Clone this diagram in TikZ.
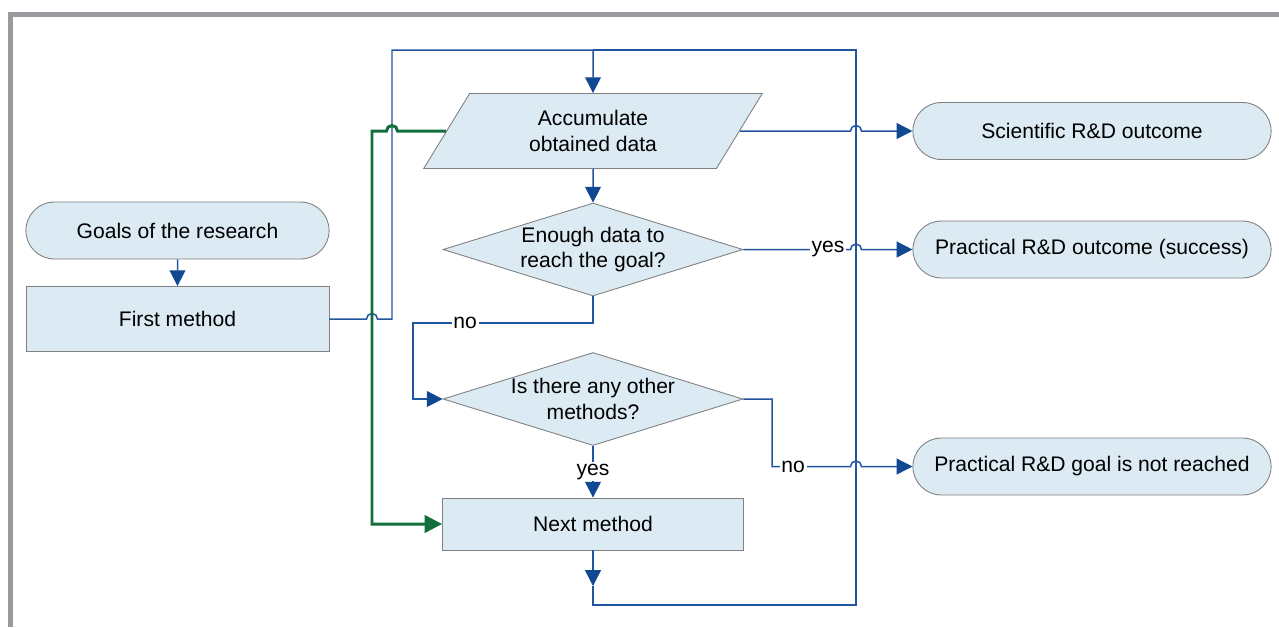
\documentclass[tikz,border=0pt]{standalone}
\usepackage{fontspec}
\setmainfont{Liberation Sans}
\usetikzlibrary{arrows.meta,shapes.geometric,shapes.misc}

\definecolor{boxfill}{RGB}{219,234,243}
\definecolor{boxdraw}{RGB}{128,128,128}
\definecolor{lineblue}{RGB}{34,85,160}
\definecolor{arrowblue}{RGB}{16,72,145}
\definecolor{pathgreen}{RGB}{18,110,60}
\definecolor{framegray}{RGB}{153,153,158}

\begin{document}
\begin{tikzpicture}[x=0.02cm, y=-0.02cm,
  every node/.style={font=\fontsize{12}{14.4}\selectfont},
  terminal/.style={rounded rectangle, draw=boxdraw, fill=boxfill, line width=0.5pt,
    minimum width=7.4cm, minimum height=1.14cm},
  process/.style={rectangle, draw=boxdraw, fill=boxfill, line width=0.5pt,
    minimum width=6.06cm},
  data/.style={trapezium, trapezium left angle=63.7, trapezium right angle=116.3,
    trapezium stretches=true, draw=boxdraw, fill=boxfill, line width=0.5pt,
    minimum width=6.78cm, minimum height=1.5cm, align=center},
  decision/.style={diamond, draw=boxdraw, fill=boxfill, line width=0.5pt, align=center,
    inner sep=0pt, shape aspect=3.2, minimum width=6cm, minimum height=1.86cm},
  flow/.style={draw=lineblue, line width=0.85pt},
  arrow/.style={-{Triangle[length=9pt, width=9pt, color=arrowblue]}},
  back/.style={draw=pathgreen, line width=1.7pt, -{Triangle[length=10pt, width=10pt]}},
  lbl/.style={fill=white, inner sep=1pt},
  frame/.style={draw=framegray, line width=0.1cm}]
  \useasboundingbox (0,0) rectangle (1279,627);

  %% frame
  \draw[frame] (1279,14.2) -- (10.8,14.2) -- (10.8,627);

  %% start
  \node[terminal, minimum width=6.3cm] (goals) at (177.5,230.5) {Goals of the research};
  \node[process, minimum height=1.3cm] (first) at (177.5,319) {First method};

  %% loop
  \node[data] (acc) at (593,131) {Accumulate\\obtained data};
  \node[decision] (enough) at (593,249.5) {Enough data to\\reach the goal?};
  \node[decision] (other) at (593,399) {Is there any other\\methods?};
  \node[process, minimum width=6.02cm, minimum height=1.04cm] (next) at (593,524) {Next method};

  %% outcomes
  \node[terminal] (sci) at (1092,131) {Scientific R\&D outcome};
  \node[terminal] (success) at (1092,249.5) {Practical R\&D outcome (success)};
  \node[terminal] (fail) at (1092,466.5) {Practical R\&D goal is not reached};

  %% connectors
  \draw[flow, arrow] (goals) -- (first);
  \draw[flow, arrow] (first.east) -- (366.5,319) arc[start angle=180, end angle=0, radius=0.11cm]
    -- (392,319) -- (392,50) -| (acc.north);
  \draw[flow, arrow] (next.south) -- (593,586);
  \draw[flow] (593,586) -- (593,605) -| (856,50) -- (593,50);
  \draw[flow, arrow] (acc.east) -- (850.5,131) arc[start angle=180, end angle=0, radius=0.11cm]
    -- (sci.west);
  \draw[flow, arrow] (acc) -- (enough);
  \draw[flow, arrow] (enough.east) -- node[lbl, pos=0.79] {yes} (850.5,249.5)
    arc[start angle=180, end angle=0, radius=0.11cm] -- (success.west);
  \draw[flow, arrow] (enough.south) -- (593,323) -- node[lbl, pos=0.71] {no} (413,323)
    |- (other.west);
  \draw[flow, arrow] (other.east) -| (772,466.5) -- node[lbl, pos=0.27] {no} (850.5,466.5)
    arc[start angle=180, end angle=0, radius=0.11cm] -- (fail.west);
  \draw[flow, arrow] (other) -- node[lbl] {yes} (next);

  %% way back
  \draw[back] (acc.west) -- (397.5,131) arc[start angle=0, end angle=180, radius=0.11cm]
    -- (372,131) |- (next.west);

\end{tikzpicture}
\end{document}
